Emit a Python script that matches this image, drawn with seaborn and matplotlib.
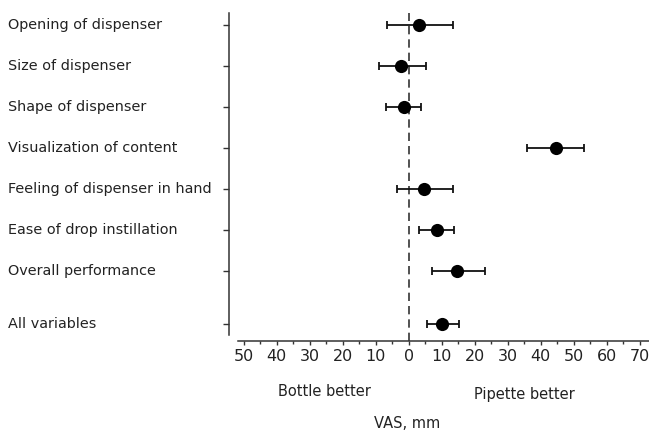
import numpy as np
import pandas as pd
import matplotlib
matplotlib.use("Agg")
import matplotlib.pyplot as plt
import matplotlib.transforms as mtransforms
import seaborn as sns

# Data (VAS, mm; negative = bottle better)
variables = [
    "Opening of dispenser",
    "Size of dispenser",
    "Shape of dispenser",
    "Visualization of content",
    "Feeling of dispenser in hand",
    "Ease of drop instillation",
    "Overall performance",
    "All variables",
]
row_pos = [0, 1, 2, 3, 4, 5, 6, 7.3]
means = [3.2, -2.3, -1.5, 44.6, 4.7, 8.5, 14.6, 10.2]
ci_low = [-6.7, -9.1, -6.9, 35.8, -3.4, 3.1, 7.2, 5.6]
ci_high = [13.5, 5.2, 3.7, 53.2, 13.5, 13.8, 23.1, 15.2]

x_major = list(range(-50, 71, 10))
x_labels = [str(abs(v)) for v in x_major]

df = pd.DataFrame({"variable": variables, "pos": row_pos, "mean": means,
                   "low": ci_low, "high": ci_high})

sns.set_style("ticks")
plt.rcParams["font.family"] = ["DejaVu Sans"]

fig = plt.figure(figsize=(6.49, 4.32), dpi=100)
ax = fig.add_axes([238 / 649, 1 - 340.7 / 432, 411 / 649, (340.7 - 13) / 432])

# dashed reference line at 0
ax.axvline(0, color="#333333", lw=1.2, ls=(0, (5, 3)), zorder=1)

# confidence intervals
ax.errorbar(df["mean"], df["pos"],
            xerr=[df["mean"] - df["low"], df["high"] - df["mean"]],
            fmt="none", ecolor="#111111", elinewidth=1.3, capsize=3,
            capthick=1.3, zorder=2)

# point estimates
sns.scatterplot(data=df, x="mean", y="pos", ax=ax, color="black", s=90,
                edgecolor="black", linewidth=0, zorder=3, legend=False)

ax.set_xlim(-51.7, 72.8)
ax.set_ylim(7.70, -0.29)

ax.set_xticks(x_major)
ax.set_xticklabels(x_labels, fontsize=11.5, color="#222222")
ax.set_xticks(list(range(-45, 71, 10)), minor=True)
ax.tick_params(axis="x", which="major", length=3, width=1, color="#333333", pad=3)
ax.tick_params(axis="x", which="minor", length=2, width=1, color="#333333")

# y ticks without labels; left-aligned row names drawn as text
ax.set_yticks(row_pos)
ax.set_yticklabels([])
ax.tick_params(axis="y", length=4, width=1, color="#333333")
row_trans = mtransforms.blended_transform_factory(fig.transFigure, ax.transData)
for name, pos in zip(variables, row_pos):
    ax.text(8 / 649, pos, name, transform=row_trans, ha="left", va="center",
            fontsize=10.4, color="#222222")

sns.despine(ax=ax, top=True, right=True)
ax.spines["left"].set_position(("outward", 6.5))
ax.spines["left"].set_bounds(-0.29, 7.56)
for s in ["left", "bottom"]:
    ax.spines[s].set_color("#333333")
    ax.spines[s].set_linewidth(1.1)

ax.set_xlabel("")
ax.set_ylabel("")

trans = mtransforms.blended_transform_factory(ax.transData, fig.transFigure)
ax.text(-25.4, 1 - 391.7 / 432, "Bottle better", transform=trans,
        ha="center", va="center", fontsize=10.5, color="#222222")
ax.text(35.2, 1 - 394 / 432, "Pipette better", transform=trans,
        ha="center", va="center", fontsize=10.5, color="#222222")
ax.text(-0.4, 1 - 423 / 432, "VAS, mm", transform=trans,
        ha="center", va="center", fontsize=10.5, color="#222222")

fig.savefig("out.png", dpi=100)
